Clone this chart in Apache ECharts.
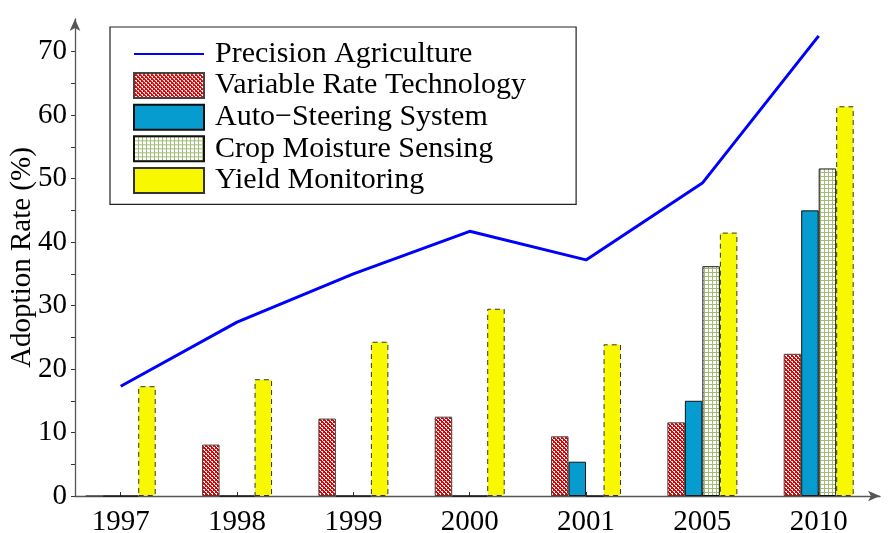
<!DOCTYPE html>
<html>
<head>
<meta charset="utf-8">
<style>
  html, body { margin: 0; padding: 0; background: #fff; }
  #chart { width: 889px; height: 533px; }
</style>
<script src="https://cdn.jsdelivr.net/npm/echarts@6/dist/echarts.min.js"></script>
</head>
<body>
<div id="chart"></div>
<script>
// ---- data ----
var years = ['1997', '1998', '1999', '2000', '2001', '2005', '2010'];
var precisionAgriculture = [17.3, 27.4, 35.0, 41.7, 37.2, 49.3, 72.5];
var variableRateTech = [0, 8.1, 12.2, 12.5, 9.4, 11.6, 22.4];
var autoSteering = [0, 0, 0, 0, 5.4, 15.0, 45.0];
var cropMoisture = [0, 0, 0, 0, 0, 36.2, 51.6];
var yieldMonitoring = [17.3, 18.4, 24.3, 29.5, 23.9, 41.5, 61.4];
var yLabelValues = [0, 10, 20, 30, 40, 50, 60, 70];
var yTickValues = [0, 5, 10, 15, 20, 25, 30, 35, 40, 45, 50, 55, 60, 65, 70];

function pairs(arr) {
  return arr.map(function (v, i) { return [i + 1, v]; });
}

// ---- patterns ----
function makeRedPattern() {
  var c = document.createElement('canvas');
  c.width = 4; c.height = 4;
  var g = c.getContext('2d');
  g.fillStyle = '#ffffff'; g.fillRect(0, 0, 4, 4);
  g.fillStyle = '#e00000';
  var px = [[0,0],[1,1],[2,2],[3,3],[3,0],[2,1],[1,2],[0,3],[1,0],[3,2]];
  px.forEach(function (p) { g.fillRect(p[0], p[1], 1, 1); });
  return c;
}
function makeGreenPattern() {
  var c = document.createElement('canvas');
  c.width = 4; c.height = 4;
  var g = c.getContext('2d');
  g.fillStyle = '#ffffff'; g.fillRect(0, 0, 4, 4);
  g.fillStyle = '#a3bb74';
  g.fillRect(0, 0, 1, 4);
  g.fillRect(0, 0, 4, 1);
  return c;
}

var FONT = "'Liberation Serif', 'Times New Roman', Times, serif";
var chart = echarts.init(document.getElementById('chart'), null, { renderer: 'canvas' });

var barCommon = {
  type: 'bar',
  barWidth: 17.5,
  barGap: '0%',
  z: 2
};

var option = {
  animation: false,
  backgroundColor: '#ffffff',
  textStyle: { fontFamily: FONT },
  grid: { left: 75, right: 9, top: 19, bottom: 37, containLabel: false, outerBoundsMode: 'none' },
  legend: {
    orient: 'vertical',
    left: 110,
    top: 27,
    padding: [12, 50, 9, 23],
    itemWidth: 70,
    itemHeight: 25,
    itemGap: 1.6,
    borderColor: '#222',
    borderWidth: 1.2,
    backgroundColor: '#fff',
    textStyle: { fontFamily: FONT, fontSize: 30, color: '#000', padding: [0, 0, 0, 6] },
    data: [
      { name: 'Precision Agriculture', itemStyle: { color: 'rgba(0,0,0,0)', borderWidth: 0, opacity: 0 } },
      { name: 'Variable Rate Technology', icon: 'rect' },
      { name: 'Auto\u2212Steering System', icon: 'rect' },
      { name: 'Crop Moisture Sensing', icon: 'rect' },
      { name: 'Yield Monitoring', icon: 'rect' }
    ]
  },
  xAxis: {
    type: 'value',
    min: 0.607,
    max: 7.527,
    splitLine: { show: false },
    axisLine: { show: true, onZero: false, lineStyle: { color: '#555', width: 1.3 }, symbol: ['none', 'arrow'], symbolSize: [8, 12] },
    axisTick: { show: true, inside: true, length: 4, lineStyle: { color: '#333' }, customValues: [1, 2, 3, 4, 5, 6, 7] },
    axisLabel: {
      customValues: [1, 2, 3, 4, 5, 6, 7],
      formatter: function (v) { return years[Math.round(v) - 1] || ''; },
      fontFamily: FONT, fontSize: 29, color: '#000', margin: 12
    }
  },
  yAxis: {
    type: 'value',
    min: 0,
    max: 75.15,
    name: 'Adoption Rate (%)',
    nameLocation: 'middle',
    nameGap: 38,
    nameMoveOverlap: false,
    nameTextStyle: { fontFamily: FONT, fontSize: 29, color: '#000' },
    splitLine: { show: false },
    axisLine: { show: true, onZero: false, lineStyle: { color: '#555', width: 1.3 }, symbol: ['none', 'arrow'], symbolSize: [8, 12] },
    axisTick: { show: true, inside: false, length: 4, lineStyle: { color: '#333' }, customValues: yTickValues },
    axisLabel: { customValues: yLabelValues, fontFamily: FONT, fontSize: 29, color: '#000', margin: 8 }
  },
  series: [
    {
      name: 'Precision Agriculture',
      type: 'line',
      data: pairs(precisionAgriculture),
      symbol: 'none',
      showSymbol: false,
      lineStyle: { color: '#0000ff', width: 3 },
      itemStyle: { color: '#0000ff' },
      z: 5
    },
    Object.assign({}, barCommon, {
      name: 'Variable Rate Technology',
      data: pairs(variableRateTech),
      itemStyle: { color: { image: makeRedPattern(), repeat: 'repeat' }, borderColor: '#444', borderWidth: 1 }
    }),
    Object.assign({}, barCommon, {
      name: 'Auto\u2212Steering System',
      data: pairs(autoSteering),
      itemStyle: { color: '#079ccf', borderColor: '#111', borderWidth: 1 }
    }),
    Object.assign({}, barCommon, {
      name: 'Crop Moisture Sensing',
      data: pairs(cropMoisture),
      itemStyle: { color: { image: makeGreenPattern(), repeat: 'repeat' }, borderColor: '#111', borderWidth: 1 }
    }),
    Object.assign({}, barCommon, {
      name: 'Yield Monitoring',
      data: pairs(yieldMonitoring),
      itemStyle: { color: '#f8f800', borderColor: '#333', borderWidth: 1, borderType: [5, 4] }
    })
  ]
};
chart.setOption(option);
</script>
</body>
</html>
